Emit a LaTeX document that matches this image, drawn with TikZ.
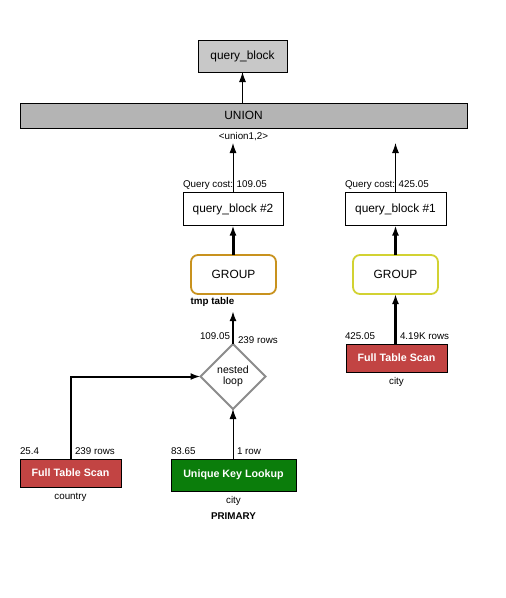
\documentclass[tikz,border=0pt]{standalone}
\usepackage{fontspec}
\setmainfont{Liberation Sans}
\usetikzlibrary{arrows.meta,shapes.geometric}
\definecolor{qbgray}{HTML}{C8C8C8}
\definecolor{uniongray}{HTML}{B4B4B4}
\definecolor{ftsred}{HTML}{C24443}
\definecolor{ukgreen}{HTML}{0B7D0B}
\definecolor{grouporange}{HTML}{C8921E}
\definecolor{groupyellow}{HTML}{D2D232}
\definecolor{diagray}{HTML}{8C8C8C}
\tikzset{
  every node/.style={inner sep=0pt, outer sep=0pt},
  box/.style={draw=black, line width=1pt, minimum width=#1, font=\fontsize{11.9}{14}\selectfont},
  qbox/.style={box=100pt, minimum height=33pt, fill=white},
  opbox/.style={draw=black, line width=1pt, text=white, font=\fontsize{10.7}{13}\selectfont\bfseries},
  groupbox/.style={draw=#1, line width=1.8pt, rounded corners=7pt, minimum width=85pt, minimum height=39pt, fill=white, font=\fontsize{11.9}{14}\selectfont},
  lbl/.style={font=\fontsize{9.8}{12}\selectfont},
  blbl/.style={font=\fontsize{9.8}{12}\selectfont\bfseries},
  arr/.style={-{Latex[length=10pt,width=7pt]}, line width=#1},
  arr/.default=1pt
}
\begin{document}
\begin{tikzpicture}[x=1pt,y=-1pt]
\useasboundingbox (0,0) rectangle (506,598);
\fill[white] (0,0) rectangle (506,598);

% top
\node[box=89pt, minimum height=32pt, fill=qbgray] (qb) at (242.5,56) {query\_block};
\node[box=447pt, minimum height=25pt, fill=uniongray] (union) at (243.5,115.5) {UNION};
\node[lbl, anchor=north] (ulabel) at (243.5,132.5) {<union1,2>};
\coordinate (u2) at (233,143);
\coordinate (u1) at (395.5,143);
\draw[arr] (union.north -| qb.south) -- (qb.south);

% query blocks
\node[qbox] (qb2) at (233,209) {query\_block \#2};
\node[qbox, minimum width=101pt] (qb1) at (395.5,209) {query\_block \#1};
\node[lbl, anchor=base west] (qc2) at (183,187.5) {Query cost: 109.05};
\node[lbl, anchor=base west] (qc1) at (345,187.5) {Query cost: 425.05};
\draw[arr] (qb2.north) -- (u2);
\draw[arr] (qb1.north) -- (u1);

% groups
\node[groupbox=grouporange] (g2) at (233.5,274.5) {GROUP};
\node[groupbox=groupyellow] (g1) at (395.5,274.5) {GROUP};
\node[blbl, anchor=center] (tmp) at (212.5,302) {tmp table};
\coordinate (tmpend) at (233,311);
\draw[arr=3pt] (g2.north -| qb2.south) -- (qb2.south);
\draw[arr=3pt] (g1.north -| qb1.south) -- (qb1.south);

% nested loop
\node[diamond, draw=diagray, line width=1.8pt, minimum width=65pt, minimum height=65pt, fill=white, align=center, font=\fontsize{10.5}{11.5}\selectfont] (nl) at (233,376.5) {nested\\loop};
\draw[arr=2.2pt] (nl.north) -- (tmpend);
\node[lbl, anchor=base east] (c2) at (230,339) {109.05};
\node[lbl, anchor=base west] (r2) at (238,343.5) {239 rows};

% right full table scan
\node[opbox, fill=ftsred, minimum width=101pt, minimum height=28pt] (fts1) at (396.5,358) {Full Table Scan};
\node[lbl, anchor=base] (city1) at (396.5,384) {city};
\draw[arr=3.5pt] (fts1.north -| g1.south) -- (g1.south);
\node[lbl, anchor=base west] (c1) at (345,339.5) {425.05};
\node[lbl, anchor=base west] (r1) at (400,339.5) {4.19K rows};

% left full table scan
\node[opbox, fill=ftsred, minimum width=101pt, minimum height=28pt] (fts2) at (70.5,473) {Full Table Scan};
\node[lbl, anchor=base] (country) at (70.5,499) {country};
\draw[arr=2pt] (fts2.north) |- (nl.west);
\node[lbl, anchor=base west] (c3) at (20,454) {25.4};
\node[lbl, anchor=base west] (r3) at (75,454) {239 rows};

% unique key lookup
\node[opbox, fill=ukgreen, minimum width=125pt, minimum height=32pt] (ukl) at (233.5,475) {Unique Key Lookup};
\node[lbl, anchor=base] (city2) at (233.5,503) {city};
\node[blbl, anchor=base] (prim) at (233.5,519) {PRIMARY};
\draw[arr] (ukl.north -| nl.south) -- (nl.south);
\node[lbl, anchor=base west] (c4) at (171,454) {83.65};
\node[lbl, anchor=base west] (r4) at (237,454) {1 row};
\end{tikzpicture}
\end{document}
